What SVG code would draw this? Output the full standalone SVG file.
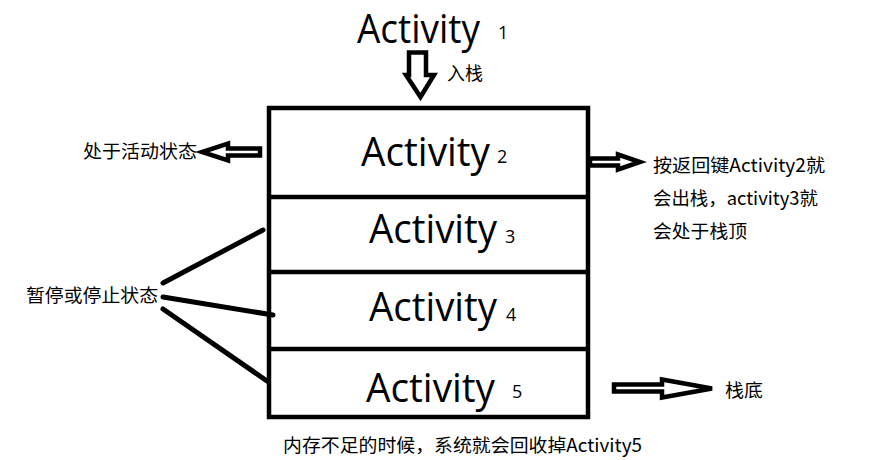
<svg xmlns="http://www.w3.org/2000/svg" width="885" height="460" viewBox="0 0 885 460">
<style>
.big{font-family:"Open Sans","Liberation Sans",sans-serif;font-size:40px;fill:#000}
.num{font-family:"Open Sans","Liberation Sans",sans-serif;font-size:18px;fill:#000}
.lbl{font-family:"Noto Sans CJK SC","Noto Sans",sans-serif;font-size:18.5px;fill:#000}
.box{fill:#fff;stroke:#000;stroke-width:4.5}
.arr{fill:#fff;stroke:#000;stroke-width:4.5;stroke-linejoin:miter}
.ln{stroke:#000;stroke-width:5;stroke-linecap:round;fill:none}
</style>
<rect width="885" height="460" fill="#fff"/>
<g id="activity1">
<text class="big" x="357" y="43" textLength="123" lengthAdjust="spacingAndGlyphs">Activity</text>
<text class="num" x="498" y="39" font-size="17">1</text>
</g>
<g id="stack">
<rect class="box" x="269" y="108" width="319" height="309"/>
</g>
<g id="activity2">
<line x1="269" y1="197" x2="588" y2="197" stroke="#000" stroke-width="4.5"/>
<text class="big" x="361" y="166" textLength="129" lengthAdjust="spacingAndGlyphs">Activity</text>
<text class="num" x="497" y="163">2</text>
</g>
<g id="activity3">
<line x1="269" y1="272" x2="588" y2="272" stroke="#000" stroke-width="4.5"/>
<text class="big" x="369" y="243" textLength="128" lengthAdjust="spacingAndGlyphs">Activity</text>
<text class="num" x="505" y="243">3</text>
</g>
<g id="activity4">
<line x1="269" y1="349" x2="588" y2="349" stroke="#000" stroke-width="4.5"/>
<text class="big" x="369" y="321" textLength="128" lengthAdjust="spacingAndGlyphs">Activity</text>
<text class="num" x="506" y="321">4</text>
</g>
<g id="activity5">
<text class="big" x="366" y="402" textLength="129" lengthAdjust="spacingAndGlyphs">Activity</text>
<text class="num" x="512" y="398">5</text>
</g>
<g id="connectors">
<path class="arr" d="M409,52.5 L426,52.5 L426,75 L434,75 L420.5,97 L406,75 L409,75 Z"/>
<path class="arr" d="M590,158.5 L618,158.5 L618,154.5 L640,162 L618,169.5 L618,165.5 L590,165.5 Z"/>
<path class="arr" d="M260,148.5 L228,148.5 L228,143.5 L202,152 L228,160.5 L228,155.5 L260,155.5 Z"/>
<path class="arr" d="M614,384.5 L662,384.5 L662,379.5 L712,388.5 L662,397.5 L662,391.5 L614,391.5 Z"/>
<line class="ln" x1="163" y1="283" x2="263" y2="230"/>
<line class="ln" x1="163" y1="297" x2="273" y2="315"/>
<line class="ln" x1="163" y1="309" x2="267" y2="381"/>
</g>
<g id="labels">
<text class="lbl" x="447" y="80" textLength="36" lengthAdjust="spacingAndGlyphs">入栈</text>
<text class="lbl" x="83" y="158" textLength="114" lengthAdjust="spacingAndGlyphs">处于活动状态</text>
<text class="lbl" x="26" y="302" textLength="132" lengthAdjust="spacingAndGlyphs">暂停或停止状态</text>
<text class="lbl" x="653" y="172" textLength="172" lengthAdjust="spacingAndGlyphs">按返回键Activity2就</text>
<text class="lbl" x="653" y="205" textLength="165" lengthAdjust="spacingAndGlyphs">会出栈，activity3就</text>
<text class="lbl" x="653" y="238" textLength="94" lengthAdjust="spacingAndGlyphs">会处于栈顶</text>
<text class="lbl" x="725" y="397" textLength="38" lengthAdjust="spacingAndGlyphs">栈底</text>
<text class="lbl" x="283" y="452" textLength="359" lengthAdjust="spacingAndGlyphs">内存不足的时候，系统就会回收掉Activity5</text>
</g>
</svg>
